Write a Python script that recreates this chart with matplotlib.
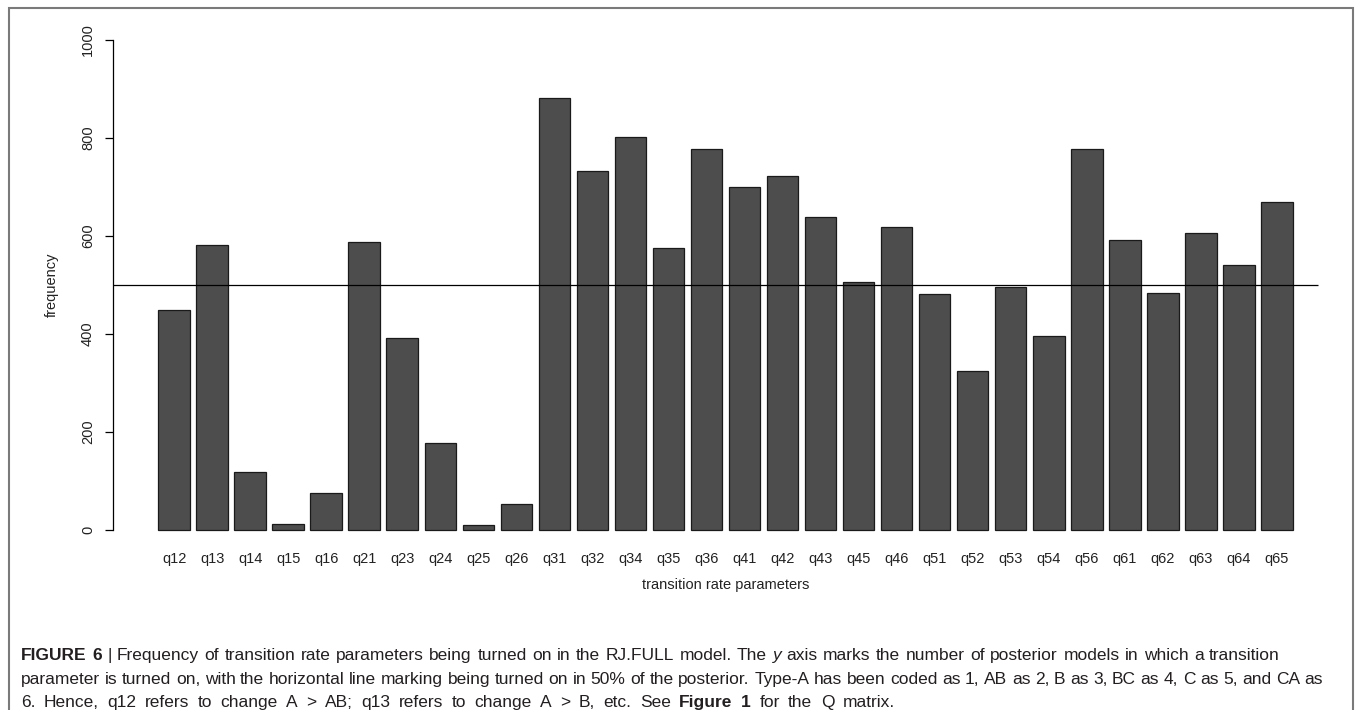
import matplotlib
matplotlib.use("Agg")
import matplotlib.pyplot as plt
from matplotlib.patches import Rectangle

# values
params = ['q12', 'q13', 'q14', 'q15', 'q16', 'q21', 'q23', 'q24', 'q25', 'q26',
          'q31', 'q32', 'q34', 'q35', 'q36', 'q41', 'q42', 'q43', 'q45', 'q46',
          'q51', 'q52', 'q53', 'q54', 'q56', 'q61', 'q62', 'q63', 'q64', 'q65']
frequency = [449, 582, 119, 13, 75, 588, 391, 177, 10, 54,
             881, 733, 803, 576, 778, 701, 722, 639, 507, 618,
             481, 325, 495, 395, 778, 592, 484, 607, 541, 670]
yticks = [0, 200, 400, 600, 800, 1000]
threshold = 500

W, H = 1355, 710
CHART_FONT = 'Liberation Sans'
CAP_FONT = 'Liberation Sans'

fig = plt.figure(figsize=(W / 100, H / 100), dpi=100)

# plot region in pixels (R barplot layout)
left, right, top, bottom = 113, 1338, 20.4, 549.6
ax = fig.add_axes([left / W, 1 - bottom / H, (right - left) / W, (bottom - top) / H])

xpos = [0.7 + 1.2 * i for i in range(len(params))]
ax.bar(xpos, frequency, width=1.0, color='#4d4d4d', edgecolor='#1a1a1a', linewidth=0.9)
ax.hlines(threshold, -1.232, 36.8, color='black', linewidth=0.9)

ax.set_xlim(-1.232, 37.432)
ax.set_ylim(-40, 1040)
for s in ['top', 'right', 'bottom']:
    ax.spines[s].set_visible(False)
ax.spines['left'].set_bounds(0, 1000)
ax.spines['left'].set_linewidth(0.9)

ax.set_yticks(yticks)
ax.set_yticklabels([str(v) for v in yticks], rotation=90, va='center',
                   fontsize=10.5, family=CHART_FONT, color='#222222')
ax.tick_params(axis='y', length=6, width=0.9, pad=7)
ax.set_xticks(xpos)
ax.set_xticklabels(params, fontsize=10.5, family=CHART_FONT, color='#222222')
ax.tick_params(axis='x', length=0, pad=2)

fig.text((left + right) / 2 / W, 1 - 585 / H, 'transition rate parameters', ha='center', va='center',
         fontsize=10.5, family=CHART_FONT, color='#222222')
fig.text(52 / W, 1 - (top + bottom) / 2 / H, 'frequency', ha='center', va='center', rotation=90,
         fontsize=10.5, family=CHART_FONT, color='#222222')

# outer frame
fig.patches.append(Rectangle((9 / W, -0.05), (1353 - 9) / W, 1.05 - 8 / H, transform=fig.transFigure,
                             fill=False, edgecolor='#7a7a7a', linewidth=1.5, clip_on=False))

# caption
B = {'weight': 'bold'}
I = {'style': 'italic'}
N = {}
caption = [
    ([('FIGURE 6', B), ('| Frequency of transition rate parameters being turned on in the RJ.FULL model. The', N),
      ('y', I), ('axis marks the number of posterior models in which a transition', N)], 660, 1280),
    ([('parameter is turned on, with the horizontal line marking being turned on in 50% of the posterior. '
       'Type-A has been coded as 1, AB as 2, B as 3, BC as 4, C as 5, and CA as', N)], 684, 1323),
    ([('6. Hence, q12 refers to change A > AB; q13 refers to change A > B, etc. See', N), ('Figure 1', B),
      ('for the Q matrix.', N)], 707, 895),
]

renderer = fig.canvas.get_renderer()


def measure(parts, size):
    words = []
    for txt, kw in parts:
        words += [(w, kw) for w in txt.split(' ') if w]
    objs = [fig.text(0, 0, w, fontsize=size, family=CAP_FONT, va='baseline', color='#231f20', **kw)
            for w, kw in words]
    widths = [o.get_window_extent(renderer).width for o in objs]
    a = fig.text(0, 0, 'a a', fontsize=size, family=CAP_FONT)
    b = fig.text(0, 0, 'aa', fontsize=size, family=CAP_FONT)
    sp = a.get_window_extent(renderer).width - b.get_window_extent(renderer).width
    a.remove()
    b.remove()
    return objs, widths, sp


# fit the font size so the second (full) line ends where it does in the reference
objs, widths, sp = measure(caption[1][0], 11)
natural = sum(widths) + sp * (len(objs) - 1)
for o in objs:
    o.remove()
CAP_SIZE = 11 * (1323 - 21) / natural

for parts, base, xr in caption:
    objs, widths, sp = measure(parts, CAP_SIZE)
    gap = sp if xr is None else (xr - 21 - sum(widths)) / (len(objs) - 1)
    x = 21
    for o, w in zip(objs, widths):
        o.set_position((x / W, 1 - base / H))
        x += w + gap

fig.savefig('out.png', dpi=100)
